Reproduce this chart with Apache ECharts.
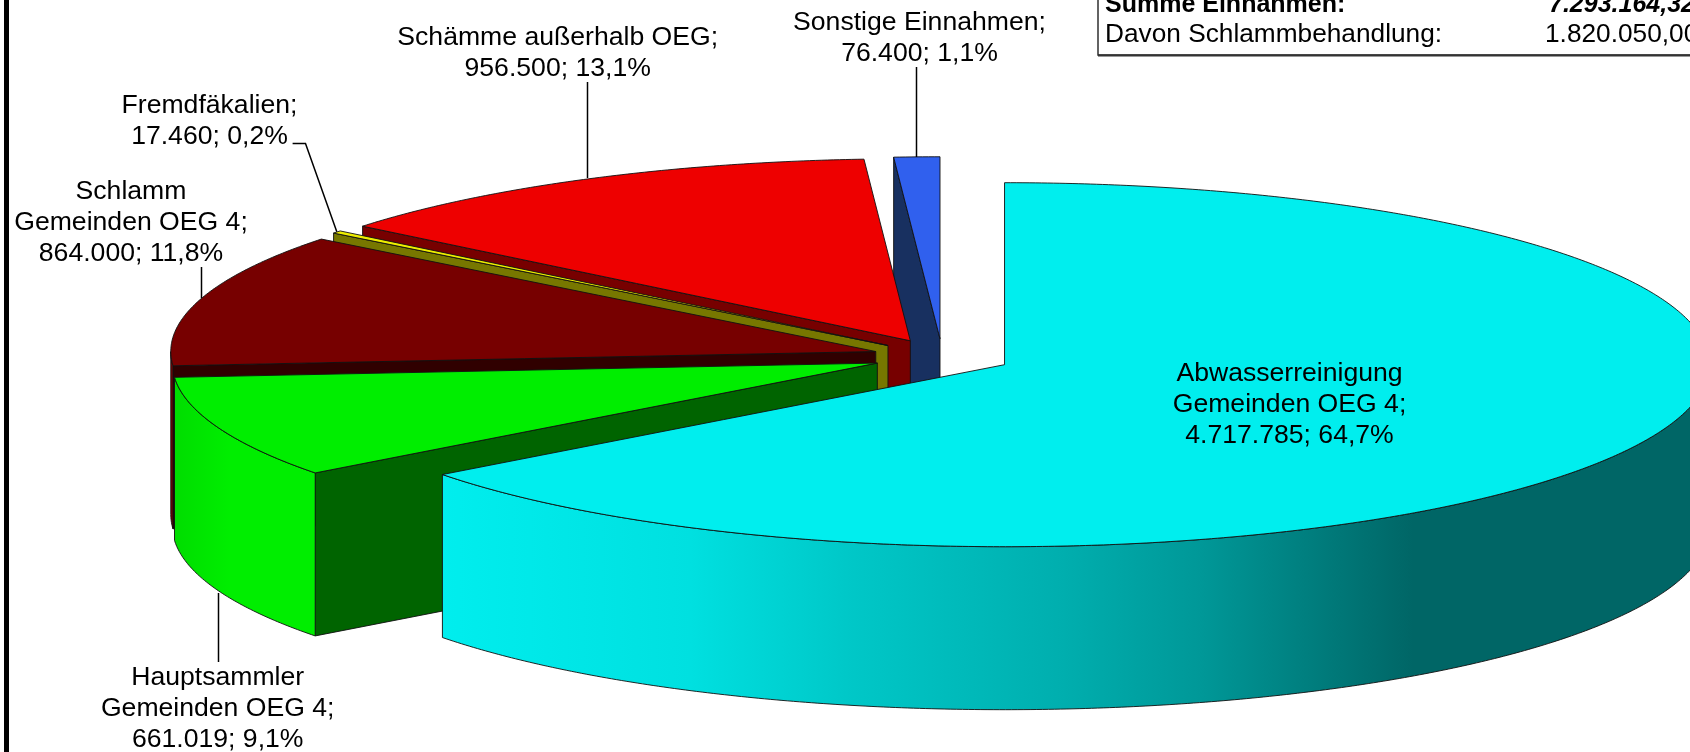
<!DOCTYPE html>
<html>
<head>
<meta charset="utf-8">
<title>Einnahmen</title>
<script src="https://cdn.jsdelivr.net/npm/echarts@6/dist/echarts.min.js"></script>
<style>
html,body{margin:0;padding:0;background:#fff;overflow:hidden;}
#main{width:1690px;height:752px;}
</style>
</head>
<body>
<div id="main"></div>
<script>
// werte aus dem bild
var categories = ['Abwasserreinigung\nGemeinden OEG 4;', 'Hauptsammler\nGemeinden OEG 4;', 'Schlamm\nGemeinden OEG 4;', 'Fremdfäkalien;', 'Schämme außerhalb OEG;', 'Sonstige Einnahmen;'];
var values = [4717785, 661019, 864000, 17460, 956500, 76400];
var percentLabels = ['64,7%', '9,1%', '11,8%', '0,2%', '13,1%', '1,1%'];
var tableRows = ['Summe Einnahmen:', 'Davon Schlammbehandlung:'];
var tableValues = ['7.293.164,32', '1.820.050,00'];

// farben: oberseite, schnittkante
var topColors = ['#00eeee', '#00ee00', '#770000', '#eeee00', '#ee0000', '#3060ee'];
var wallColors = ['#006666', '#006400', '#300000', '#777700', '#770000', '#183060'];

// geometrie der tortenprojektion
var pie = {cx: 942.3, cy: 356.7, rx: 705, ry: 182, depth: 163, explode: 69.5};
// textmitte je kategorie
var labelX = [1289.5, 217.7, 131, 209.5, 557.7, 919.5];
var labelY = [404.5, 709, 223, 121, 53, 38.5];
// fuehrungslinien
var leaders = [
  null,
  [[218.5, 593], [218.5, 662]],
  [[201.5, 267], [201.5, 298]],
  [[292.6, 143.5], [305.5, 143.5], [336.8, 231.7]],
  [[587.5, 82], [587.5, 178]],
  [[916.5, 67], [916.5, 157]]
];

var total = values.reduce(function (a, b) { return a + b; }, 0);
var starts = [];
values.reduce(function (sum, v, i) { starts[i] = sum / total * 360; return sum + v; }, 0);

function pt(c, deg, down) {
  var r = deg * Math.PI / 180;
  return [c[0] + pie.rx * Math.sin(r), c[1] - pie.ry * Math.cos(r) + (down || 0)];
}

function arc(c, a, b, down) {
  var list = [];
  var n = Math.max(2, Math.ceil(Math.abs(b - a) * 2));
  for (var k = 0; k <= n; k++) {
    list.push(pt(c, a + (b - a) * k / n, down));
  }
  return list;
}

function formatValue(v) {
  return String(v).replace(/\B(?=(\d{3})+$)/g, '.');
}

var lineStyle = {stroke: '#111', lineWidth: 0.9, lineJoin: 'round'};

function poly(points, fill) {
  return {
    type: 'polygon',
    shape: {points: points},
    style: Object.assign({fill: fill}, lineStyle)
  };
}

// verlauf am rand des grossen stuecks
var cyanRim = new echarts.graphic.LinearGradient(440, 0, 1690, 0, [
  {offset: 0, color: '#00eeee'},
  {offset: 0.2, color: '#00e0e0'},
  {offset: 0.325, color: '#00c8c8'},
  {offset: 0.5, color: '#00aeae'},
  {offset: 0.608, color: '#009898'},
  {offset: 0.778, color: '#006666'},
  {offset: 1, color: '#006666'}
], true);
var greenRim = new echarts.graphic.LinearGradient(170, 0, 230, 0, [
  {offset: 0, color: '#00dc00'},
  {offset: 1, color: '#00ee00'}
], true);

function rimFill(i) {
  if (i === 0) return cyanRim;
  if (i === 1) return greenRim;
  return topColors[i];
}

function renderSlice(params) {
  var i = values.length - 1 - params.dataIndex;
  var a = starts[i];
  var b = a + values[i] / total * 360;
  var mid = (a + b) / 2 * Math.PI / 180;
  var c = [
    pie.cx + pie.explode * Math.sin(mid),
    pie.cy - pie.explode * pie.ry / pie.rx * Math.cos(mid)
  ];
  var kids = [];

  // schnittkante am anfang, nur links sichtbar
  if (a > 180) {
    var p = pt(c, a);
    kids.push(poly([c, p, [p[0], p[1] + pie.depth], [c[0], c[1] + pie.depth]], wallColors[i]));
  }
  // aussenrand, nur vorne sichtbar
  var from = Math.max(a, 90), to = Math.min(b, 270);
  if (to > from) {
    kids.push(poly(arc(c, from, to).concat(arc(c, to, from, pie.depth)), rimFill(i)));
  }
  kids.push(poly([c].concat(arc(c, a, b)), topColors[i]));
  return {type: 'group', children: kids};
}

function renderLabel(params) {
  var i = params.dataIndex;
  var kids = [{
    type: 'text',
    x: labelX[i],
    y: labelY[i],
    style: {
      text: categories[i] + '\n' + formatValue(values[i]) + '; ' + percentLabels[i],
      x: 0,
      y: 0,
      align: 'center',
      verticalAlign: 'middle',
      font: '26.6px "Liberation Sans"',
      lineHeight: 31,
      fill: '#000'
    }
  }];
  if (leaders[i]) {
    kids.push({
      type: 'polyline',
      shape: {points: leaders[i]},
      style: {stroke: '#000', lineWidth: 1.5, fill: null}
    });
  }
  return {type: 'group', children: kids};
}

function renderTable() {
  var kids = [
    {type: 'rect', shape: {x: 1098, y: -6, width: 620, height: 61}, style: {fill: '#fff', stroke: '#222', lineWidth: 1.4}},
    {type: 'line', shape: {x1: 1098, y1: 55.5, x2: 1690, y2: 55.5}, style: {stroke: '#333', lineWidth: 2}}
  ];
  tableRows.forEach(function (row, i) {
    var y = i === 0 ? 5 : 35;
    var weight = i === 0 ? 'bold ' : '';
    var stretch = i === 0 ? 1 : 1.05;
    kids.push({type: 'text', x: 1105, y: y, scaleX: stretch, style: {
      text: row, x: 0, y: 0, verticalAlign: 'middle', font: weight + '25px "Liberation Sans"', fill: '#000'
    }});
    kids.push({type: 'text', x: i === 0 ? 1549 : 1545, y: y, scaleX: stretch, style: {
      text: tableValues[i], x: 0, y: 0, verticalAlign: 'middle',
      font: (i === 0 ? 'italic bold ' : '') + '25px "Liberation Sans"', fill: '#000'
    }});
  });
  return {type: 'group', children: kids};
}

var myChart = echarts.init(document.getElementById('main'));
var option = {
  animation: false,
  backgroundColor: '#fff',
  graphic: [{
    type: 'rect',
    shape: {x: 4, y: 0, width: 5, height: 752},
    style: {fill: '#000'}
  }],
  series: [
    {type: 'custom', coordinateSystem: 'none', silent: true, z: 2, renderItem: renderSlice, data: values.slice().reverse()},
    {type: 'custom', coordinateSystem: 'none', silent: true, z: 3, renderItem: renderLabel, data: values},
    {type: 'custom', coordinateSystem: 'none', silent: true, z: 4, renderItem: renderTable, data: [0]}
  ]
};
myChart.setOption(option);
</script>
</body>
</html>
